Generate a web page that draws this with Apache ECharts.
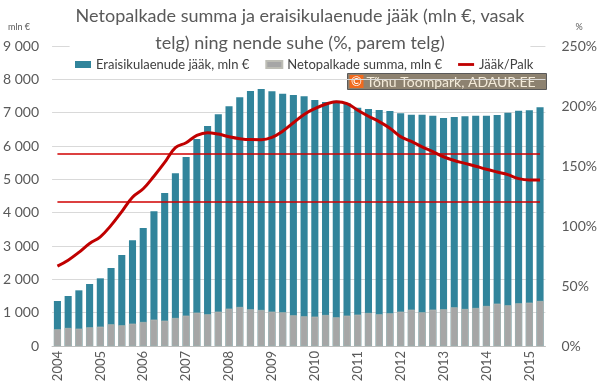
<!DOCTYPE html>
<html>
<head>
<meta charset="utf-8">
<script src="https://cdn.jsdelivr.net/npm/echarts@6/dist/echarts.min.js"></script>
<style>
html,body{margin:0;padding:0;background:#fff;}
#chart{width:600px;height:392px;}
</style>
</head>
<body>
<div id="chart"></div>
<script>
// ---- data ----
const years = [2004,2005,2006,2007,2008,2009,2010,2011,2012,2013,2014,2015];
const quartersInLastYear = 2;
const loans = [1350,1500,1670,1860,2030,2340,2730,3170,3540,4040,4590,5180,5670,6210,6600,6950,7190,7460,7650,7710,7640,7570,7530,7490,7380,7320,7360,7280,7150,7110,7080,7050,6980,6940,6940,6910,6840,6870,6890,6910,6910,6930,7000,7060,7070,7160];
const wages = [500,540,520,560,580,650,620,670,720,790,760,840,910,1000,950,1030,1120,1170,1100,1080,1030,1010,920,890,880,930,860,910,940,990,950,980,1030,1090,1010,1090,1100,1160,1110,1140,1200,1270,1220,1280,1300,1350];
const ratio = [66.5,71.5,78,85.4,91,100.5,112,124,131,141.5,153,165.3,169.4,175.5,177.8,176.6,174.4,172.8,172,171.9,173.8,179,186,193,197.8,201.5,203.5,202,196.5,191.5,187,181.5,174.5,170.5,166,162,157.7,154.6,152.2,149.8,147.3,145,142.8,139.5,138.3,138.3];
const thresholds = [160, 120];
const seriesNames = ['Eraisikulaenude jääk, mln €', 'Netopalkade summa, mln €', 'Jääk/Palk'];
const titleText = 'Netopalkade summa ja eraisikulaenude jääk (mln €, vasak\ntelg) ning nende suhe (%, parem telg)';
const credit = 'Tõnu Toompark, ADAUR.EE';

const categories = [];
years.forEach((y, i) => {
  const nq = i === years.length - 1 ? quartersInLastYear : 4;
  for (let q = 1; q <= nq; q++) categories.push(y + ' Q' + q);
});

const FONT = 'Lato';
const chart = echarts.init(document.getElementById('chart'), null, {renderer: 'canvas'});
const lastIdx = categories.length - 1;

chart.setOption({
  animation: false,
  backgroundColor: '#fff',
  textStyle: {fontFamily: FONT},
  title: {
    text: titleText,
    left: 'center',
    top: 3,
    padding: [0, 6, 0, 6],
    backgroundColor: '#fff',
    textStyle: {fontFamily: FONT, fontSize: 18, fontWeight: 'normal', color: '#595959', lineHeight: 27}
  },
  legend: {
    left: 70,
    top: 53,
    itemWidth: 16,
    itemHeight: 7,
    itemGap: 16,
    textStyle: {fontFamily: FONT, fontSize: 13, color: '#404040'},
    data: [
      {name: seriesNames[0], icon: 'rect'},
      {name: seriesNames[1], icon: 'rect'},
      {name: seriesNames[2], icon: 'path://M0,0h17v3h-17z'}
    ]
  },
  grid: {left: 52, right: 54, top: 46, bottom: 46, containLabel: false},
  xAxis: {
    type: 'category',
    data: categories,
    axisLine: {lineStyle: {color: '#bfbfbf'}},
    axisTick: {show: false},
    axisLabel: {
      interval: 3,
      rotate: 90,
      margin: 5,
      fontFamily: FONT,
      fontSize: 13,
      color: '#595959',
      formatter: v => v.slice(0, 4)
    }
  },
  yAxis: [
    {
      type: 'value', min: 0, max: 9000, interval: 1000,
      name: 'mln €', nameLocation: 'end', nameGap: 14,
      nameTextStyle: {fontFamily: FONT, fontSize: 9, color: '#595959', align: 'right', padding: [0, 22, 0, 0]},
      axisLine: {show: false}, axisTick: {show: false},
      splitLine: {lineStyle: {color: '#d9d9d9'}},
      axisLabel: {
        fontFamily: FONT, fontSize: 14, color: '#595959', margin: 13,
        formatter: v => v === 0 ? '0' : String(v).replace(/\B(?=(\d{3})+(?!\d))/g, ' ')
      }
    },
    {
      type: 'value', min: 0, max: 250, interval: 50,
      name: '%', nameLocation: 'end', nameGap: 14,
      nameTextStyle: {fontFamily: FONT, fontSize: 9, color: '#595959', align: 'left', padding: [0, 0, 0, 30]},
      axisLine: {show: false}, axisTick: {show: false},
      splitLine: {show: false},
      axisLabel: {fontFamily: FONT, fontSize: 14, color: '#595959', margin: 16, formatter: '{value}%'}
    }
  ],
  series: [
    {
      name: seriesNames[0], type: 'bar', data: loans,
      barWidth: '66%', barGap: '-100%',
      itemStyle: {color: '#31849b'}
    },
    {
      name: seriesNames[1], type: 'bar', data: wages,
      barWidth: '66%', barGap: '-100%',
      itemStyle: {color: '#a6a6a6', borderColor: '#bdbdb5', borderWidth: 0.6}
    },
    {
      name: seriesNames[2], type: 'line', yAxisIndex: 1, data: ratio,
      smooth: 0.4, showSymbol: false, symbol: 'none',
      itemStyle: {color: '#c00000'},
      lineStyle: {color: '#c00000', width: 3},
      z: 5,
      markLine: {
        silent: true, symbol: 'none',
        label: {show: false},
        lineStyle: {color: '#d00000', width: 1.5, type: 'solid'},
        data: thresholds.map(t => [{coord: [0, t]}, {coord: [lastIdx, t]}])
      }
    }
  ],
  graphic: [
    {
      type: 'group', left: 347, top: 73,
      children: [
        {type: 'rect', shape: {x: 0, y: 0, width: 199, height: 16}, style: {fill: '#8d8270', stroke: '#5a5a5a', lineWidth: 1}},
        {type: 'rect', shape: {x: 2, y: 1.5, width: 14, height: 13}, style: {fill: '#f06a1e'}},
        {type: 'text', x: 9, y: 8, style: {text: '©', fill: '#fff', font: '13px ' + FONT, align: 'center', verticalAlign: 'middle'}},
        {type: 'text', x: 19, y: 8.5, style: {text: credit, fill: '#f3ead8', font: '14px ' + FONT, verticalAlign: 'middle'}}
      ]
    }
  ]
});
</script>
</body>
</html>
